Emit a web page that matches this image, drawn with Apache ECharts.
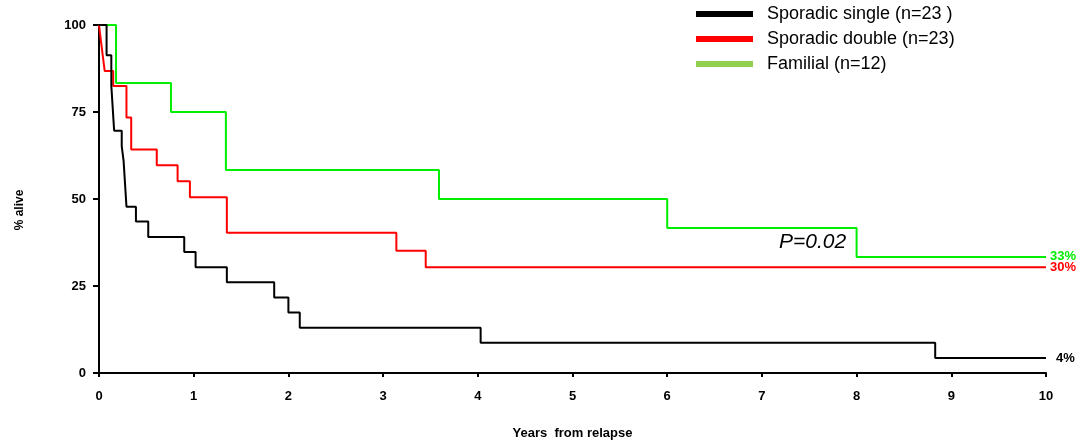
<!DOCTYPE html>
<html lang="en">
  <head>
    <meta charset="UTF-8" />
    <title>Survival from relapse</title>
    <script src="https://cdn.jsdelivr.net/npm/echarts@6/dist/echarts.min.js"></script>
  </head>
  <body style="margin: 0">
    <div id="km" style="width: 1084px; height: 440px"></div>

    <script type="text/javascript">
      // Kaplan-Meier curves: [years, % alive from that time on]
      const sporadicSingle = [
        [0, 100], [0.08, 91.3], [0.13, 82.6], [0.15, 73.9], [0.16, 69.6],
        [0.24, 65.2], [0.26, 60.9], [0.27, 56.5], [0.29, 47.8], [0.39, 43.5],
        [0.52, 39.1], [0.9, 34.8], [1.02, 30.4], [1.35, 26.1], [1.85, 21.7],
        [2.0, 17.4], [2.12, 13.0], [4.03, 8.7], [8.83, 4.3], [10, 4.3]
      ];
      const sporadicDouble = [
        [0, 100], [0.02, 95.5], [0.04, 91.1], [0.06, 86.8], [0.15, 82.5],
        [0.29, 73.4], [0.34, 64.2], [0.61, 59.7], [0.83, 55.1], [0.96, 50.5],
        [1.35, 40.3], [3.14, 35.1], [3.45, 30.4], [10, 30.4]
      ];
      const familial = [
        [0, 100], [0.18, 83.3], [0.76, 75], [1.34, 58.3], [3.59, 50],
        [6.0, 41.7], [8.0, 33.3], [10, 33.3]
      ];
      const seriesNames = ["Sporadic single (n=23 )", "Sporadic double (n=23)", "Familial (n=12)"];
      const endLabels = ["4%", "30%", "33%"];
      const lineColors = ["#000000", "#ff0000", "#00ee00"];
      const legendColors = ["#000000", "#ff0000", "#92d050"];

      const chart = echarts.init(document.getElementById("km"));
      const axisFont = "'Liberation Sans Narrow', 'Liberation Sans', Arial, sans-serif";

      const curves = [sporadicSingle, sporadicDouble, familial];
      const series = curves.map((data, i) => ({
        name: seriesNames[i],
        type: "line",
        step: "end",
        data: data,
        showSymbol: false,
        animation: false,
        z: 3 - i,
        lineStyle: { color: lineColors[i], width: 2 },
        itemStyle: { color: legendColors[i] },
        endLabel: {
          show: true,
          formatter: endLabels[i],
          color: lineColors[i],
          fontWeight: "bold",
          fontSize: 13,
          fontFamily: "Arial, 'Liberation Sans', sans-serif",
          offset: i === 0 ? [2, 0] : [-4, i === 2 ? -1 : 0]
        }
      }));

      chart.setOption({
        animation: false,
        grid: { left: 99, right: 38, top: 25, bottom: 67, outerBoundsMode: "none", containLabel: false },
        legend: {
          orient: "vertical",
          left: 691,
          top: 0,
          icon: "rect",
          itemWidth: 57,
          itemHeight: 6,
          itemGap: 7,
          selectedMode: false,
          data: seriesNames.map((n, i) => ({ name: n, itemStyle: { color: legendColors[i] } })),
          textStyle: {
            fontSize: 18,
            color: "#000",
            fontFamily: "Arial, 'Liberation Sans', sans-serif",
            padding: [0, 0, 0, 9]
          }
        },
        xAxis: {
          type: "value",
          min: 0,
          max: 10,
          interval: 1,
          name: "Years  from relapse",
          nameLocation: "middle",
          nameGap: 54,
          nameTextStyle: { fontWeight: "bold", fontSize: 13, fontFamily: axisFont, color: "#000" },
          splitLine: { show: false },
          axisLine: { lineStyle: { color: "#000", width: 2 } },
          axisTick: { length: 4, lineStyle: { color: "#000", width: 2 } },
          axisLabel: { fontWeight: "bold", fontSize: 13, fontFamily: axisFont, color: "#000", margin: 17 }
        },
        yAxis: {
          type: "value",
          min: 0,
          max: 100,
          interval: 25,
          name: "% alive",
          nameLocation: "middle",
          nameGap: 73,
          nameTextStyle: {
            fontWeight: "bold",
            fontSize: 12,
            fontFamily: axisFont,
            color: "#000",
            padding: [0, 22, 0, 0]
          },
          splitLine: { show: false },
          axisLine: { show: true, lineStyle: { color: "#000", width: 2 } },
          axisTick: { show: true, length: 6, lineStyle: { color: "#000", width: 2 } },
          axisLabel: { fontWeight: "bold", fontSize: 13, fontFamily: axisFont, color: "#000", margin: 13 }
        },
        graphic: [
          {
            type: "text",
            left: 779,
            top: 232,
            style: {
              text: "P=0.02",
              font: "italic 21px Arial, 'Liberation Sans', sans-serif",
              fill: "#000"
            }
          }
        ],
        series: series
      });
    </script>
  </body>
</html>
